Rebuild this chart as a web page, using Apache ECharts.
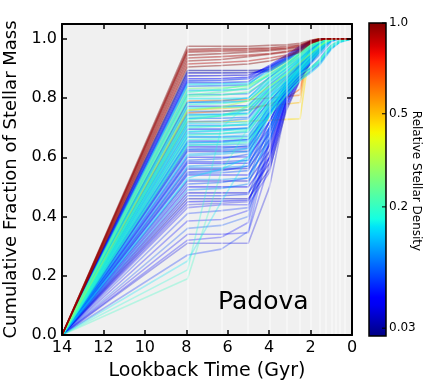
<!DOCTYPE html>
<html><head><meta charset="utf-8">
<script src="https://cdn.jsdelivr.net/npm/echarts@6/dist/echarts.min.js"></script>
<style>html,body{margin:0;padding:0;background:#fff}#c{width:429px;height:387px}</style>
</head><body><div id="c"></div>
<script>
// ---------------- data ----------------
const timeNodes = [14, 7.94, 6.31, 5.01, 3.98, 3.16, 2.51, 2.0, 1.58, 1.26, 1.0, 0.59, 0];
const binEdges = [7.94, 6.31, 5.01, 3.98, 3.16, 2.51, 2.0, 1.58, 1.26, 1.0, 0.79, 0.59, 0.35];
const xTickValues = [14, 12, 10, 8, 6, 4, 2, 0];
const yTickValues = [0.0, 0.2, 0.4, 0.6, 0.8, 1.0];
const colorbarTicks = [1.0, 0.5, 0.2, 0.03];
const colorbarTickLabels = ['1.0', '0.5', '0.2', '0.03'];
const colorbarNorm = [[0.028, 0], [0.03, 0.025], [0.2, 0.4125], [0.5, 0.71], [1.0, 1.0]];

const redDensity = [1.0, 0.98, 0.95, 1.0, 0.92, 0.97, 0.9, 1.0, 0.94];
const redTracks = [
  [0,.975,.975,.975,.978,.98,.985,.995,1,1,1,1,1],
  [0,.965,.967,.968,.97,.975,.98,.992,.998,1,1,1,1],
  [0,.955,.958,.96,.963,.968,.975,.99,.997,1,1,1,1],
  [0,.945,.95,.955,.96,.965,.972,.99,.997,1,1,1,1],
  [0,.935,.94,.945,.95,.958,.968,.988,.996,1,1,1,1],
  [0,.925,.93,.94,.948,.955,.965,.985,.995,1,1,1,1],
  [0,.915,.92,.925,.935,.945,.96,.985,.995,1,1,1,1],
  [0,.905,.91,.915,.925,.94,.955,.985,.995,1,1,1,1],
  [0,.96,.962,.965,.967,.97,.978,.992,.998,1,1,1,1]
];

const topDensity = [0.03, 0.035, 0.04, 0.05, 0.06];
const topTracks = [
  [0,.893,.893,.893,.895,.93,.965,.99,.997,1,1,1,1],
  [0,.885,.885,.886,.89,.925,.96,.985,.995,1,1,1,1],
  [0,.875,.876,.878,.905,.94,.97,.99,.997,1,1,1,1],
  [0,.865,.866,.87,.91,.945,.975,.993,.998,1,1,1,1],
  [0,.858,.86,.865,.9,.935,.968,.99,.997,1,1,1,1]
];

const upperDensity = [0.06,0.15,0.08,0.25,0.12,0.2,0.09,0.22,0.15,0.1,0.18,0.07,0.17,0.3,0.12,0.2,0.08,0.21,0.14,0.1,0.19,0.06,0.16,0.11,0.2,0.09,0.18,0.07,0.13,0.2,0.1,0.15,0.22];
const upperTracks = [
  [0,.852,.852,.855,.905,.935,.965,.99,.997,1,1,1,1],
  [0,.846,.848,.85,.89,.925,.955,.985,.995,1,1,1,1],
  [0,.84,.842,.845,.9,.93,.96,.988,.996,1,1,1,1],
  [0,.832,.835,.84,.885,.92,.95,.98,.993,1,1,1,1],
  [0,.826,.826,.83,.88,.915,.948,.978,.992,.998,1,1,1],
  [0,.82,.83,.845,.875,.91,.945,.975,.99,.998,1,1,1],
  [0,.812,.812,.815,.87,.91,.94,.972,.99,.997,1,1,1],
  [0,.805,.81,.82,.865,.905,.94,.97,.988,.997,1,1,1],
  [0,.798,.798,.8,.86,.9,.935,.965,.985,.995,1,1,1],
  [0,.785,.786,.79,.855,.9,.935,.96,.98,.993,1,1,1],
  [0,.778,.782,.79,.85,.895,.93,.96,.98,.993,1,1,1],
  [0,.772,.772,.775,.845,.89,.93,.965,.985,.996,1,1,1],
  [0,.765,.768,.772,.84,.885,.925,.955,.978,.992,1,1,1],
  [0,.758,.77,.79,.84,.88,.92,.95,.975,.99,.998,1,1],
  [0,.745,.745,.748,.83,.875,.92,.955,.978,.992,1,1,1],
  [0,.738,.74,.745,.825,.87,.915,.95,.975,.99,.998,1,1],
  [0,.732,.732,.735,.82,.87,.91,.945,.972,.99,.998,1,1],
  [0,.725,.74,.77,.82,.86,.905,.94,.97,.99,.998,1,1],
  [0,.715,.716,.72,.81,.86,.9,.94,.968,.988,.998,1,1],
  [0,.708,.708,.71,.805,.855,.9,.935,.965,.985,.997,1,1],
  [0,.70,.705,.715,.8,.85,.895,.93,.96,.985,.997,1,1],
  [0,.695,.695,.698,.79,.85,.895,.935,.965,.985,.996,1,1],
  [0,.688,.69,.695,.785,.845,.89,.925,.955,.98,.995,1,1],
  [0,.68,.68,.685,.78,.84,.885,.9,.92,.95,.97,.99,1],
  [0,.675,.68,.69,.775,.835,.88,.905,.925,.955,.975,.992,1],
  [0,.668,.668,.67,.77,.83,.875,.9,.93,.96,.978,.994,1],
  [0,.66,.662,.665,.76,.825,.87,.895,.92,.95,.97,.99,1],
  [0,.655,.655,.66,.75,.82,.865,.89,.915,.945,.968,.99,1],
  [0,.648,.65,.655,.745,.815,.86,.885,.91,.94,.965,.988,1],
  [0,.64,.645,.65,.74,.81,.86,.895,.925,.955,.98,.995,1],
  [0,.785,.79,.8,.87,.915,.95,.975,.99,.998,1,1,1],
  [0,.73,.74,.76,.84,.885,.925,.955,.978,.993,1,1,1],
  [0,.81,.82,.835,.88,.915,.95,.978,.992,.999,1,1,1]
];

const midDensity = [0.09,0.11,0.08,0.13,0.1,0.12,0.08,0.1,0.07,0.11,0.06,0.09,0.07,0.1];
const midTracks = [
  [0,.755,.755,.76,.835,.88,.92,.955,.978,.992,1,1,1],
  [0,.742,.745,.75,.83,.875,.915,.95,.975,.99,.998,1,1],
  [0,.72,.722,.73,.815,.865,.905,.94,.97,.988,.998,1,1],
  [0,.705,.705,.71,.8,.855,.9,.935,.965,.985,.997,1,1],
  [0,.685,.69,.7,.79,.845,.89,.925,.955,.98,.995,1,1],
  [0,.67,.67,.675,.77,.835,.885,.92,.95,.975,.993,1,1],
  [0,.65,.652,.66,.76,.83,.88,.915,.945,.97,.99,1,1],
  [0,.642,.642,.645,.75,.83,.885,.93,.96,.98,.995,1,1],
  [0,.625,.625,.63,.745,.84,.895,.94,.97,.988,.997,1,1],
  [0,.605,.61,.62,.75,.845,.9,.945,.972,.99,.998,1,1],
  [0,.585,.585,.59,.72,.83,.89,.94,.97,.988,.997,1,1],
  [0,.565,.565,.57,.7,.82,.885,.935,.965,.985,.996,1,1],
  [0,.545,.548,.555,.69,.815,.88,.93,.962,.984,.996,1,1],
  [0,.525,.525,.53,.66,.8,.875,.925,.96,.982,.995,1,1]
];

const warmDensity = [0.6, 0.65, 0.45, 0.5];
const warmTracks = [
  [0,.79,.792,.795,.8,.805,.81,.995,1,1,1,1,1],
  [0,.75,.755,.76,.78,.8,.83,.99,1,1,1,1,1],
  [0,.72,.72,.722,.725,.728,.73,.985,1,1,1,1,1],
  [0,.76,.765,.77,.775,.78,.785,.99,1,1,1,1,1]
];

const lowerDensity = [0.05,0.08,0.04,0.12,0.05,0.07,0.045,0.1,0.04,0.06,0.05,0.14,0.04,0.07,0.045,0.09,0.04,0.06,0.035,0.05];
const lowerTracks = [
  [0,.635,.635,.635,.74,.85,.91,.95,.975,.99,.998,1,1],
  [0,.628,.63,.64,.78,.86,.915,.955,.98,.993,1,1,1],
  [0,.62,.62,.62,.72,.84,.9,.945,.975,.99,.998,1,1],
  [0,.61,.615,.63,.77,.86,.91,.95,.978,.992,1,1,1],
  [0,.60,.60,.602,.7,.83,.9,.945,.972,.99,.998,1,1],
  [0,.59,.595,.61,.76,.85,.905,.95,.975,.99,.998,1,1],
  [0,.58,.58,.58,.68,.82,.89,.94,.97,.988,.997,1,1],
  [0,.57,.575,.59,.75,.85,.905,.948,.975,.99,.998,1,1],
  [0,.56,.56,.562,.66,.81,.885,.935,.968,.985,.996,1,1],
  [0,.55,.555,.57,.72,.84,.9,.945,.972,.99,.998,1,1],
  [0,.54,.54,.54,.64,.8,.88,.93,.965,.985,.996,1,1],
  [0,.53,.56,.6,.74,.845,.9,.945,.975,.99,.998,1,1],
  [0,.52,.52,.52,.62,.79,.875,.93,.965,.985,.996,1,1],
  [0,.51,.515,.53,.7,.83,.895,.94,.97,.988,.997,1,1],
  [0,.50,.50,.50,.6,.78,.87,.925,.96,.982,.995,1,1],
  [0,.49,.495,.51,.68,.82,.89,.938,.968,.988,.997,1,1],
  [0,.48,.48,.48,.58,.77,.865,.92,.958,.98,.995,1,1],
  [0,.47,.47,.475,.65,.81,.885,.935,.968,.987,.997,1,1],
  [0,.46,.46,.46,.56,.76,.86,.918,.955,.98,.995,1,1],
  [0,.45,.452,.455,.6,.8,.88,.93,.965,.985,.996,1,1]
];

const sparseDensity = [0.04,0.05,0.06,0.05,0.07,0.045,0.04,0.06,0.15,0.18,0.2,0.05];
const sparseTracks = [
  [0,.44,.445,.45,.62,.84,.92,.96,.985,.995,1,1,1],
  [0,.43,.44,.44,.55,.8,.9,.95,.98,.99,1,1,1],
  [0,.41,.42,.43,.7,.86,.93,.97,.99,1,1,1,1],
  [0,.385,.39,.42,.6,.82,.91,.96,.985,.995,1,1,1],
  [0,.36,.37,.40,.68,.85,.92,.965,.99,1,1,1,1],
  [0,.34,.34,.345,.58,.8,.9,.95,.98,.995,1,1,1],
  [0,.31,.31,.31,.5,.78,.88,.94,.975,.99,1,1,1],
  [0,.27,.29,.35,.65,.84,.92,.96,.985,.995,1,1,1],
  [0,.25,.45,.6,.8,.88,.93,.97,.99,1,1,1,1],
  [0,.22,.70,.78,.86,.91,.95,.975,.99,1,1,1,1],
  [0,.19,.55,.7,.82,.9,.94,.97,.99,1,1,1,1],
  [0,.32,.33,.38,.66,.84,.91,.96,.985,.995,1,1,1]
];

// ---------------- colour map ----------------
function interp(pts, f) {
  for (let i = 1; i < pts.length; i++) {
    if (f <= pts[i][0]) { const a = pts[i-1], b = pts[i]; return a[1] + (b[1]-a[1])*(f-a[0])/(b[0]-a[0]); }
  }
  return pts[pts.length-1][1];
}
const JR = [[0,0],[0.35,0],[0.66,1],[0.89,1],[1,0.5]];
const JG = [[0,0],[0.125,0],[0.375,1],[0.64,1],[0.91,0],[1,0]];
const JB = [[0,0.5],[0.11,1],[0.34,1],[0.65,0],[1,0]];
function jet(f) { f = Math.max(0, Math.min(1, f)); return [interp(JR,f), interp(JG,f), interp(JB,f)].map(v => Math.round(v*255)); }
const logNorm = colorbarNorm.map(p => [Math.log10(p[0]), p[1]]);
function densityFrac(d) { return Math.max(0, Math.min(1, interp(logNorm, Math.log10(d)))); }
function rgba(c, a) { return 'rgba(' + c[0] + ',' + c[1] + ',' + c[2] + ',' + a + ')'; }

// ---------------- series ----------------
function collect(g) { return g.t.map((tr, i) => ({ d: g.d[i], v: tr, a: g.a })); }
const warm = collect({ d: warmDensity, t: warmTracks, a: 0.45 });
let cool = [].concat(
  collect({ d: sparseDensity, t: sparseTracks, a: 0.3 }),
  collect({ d: lowerDensity, t: lowerTracks, a: 0.42 }),
  collect({ d: midDensity, t: midTracks, a: 0.4 }),
  collect({ d: upperDensity, t: upperTracks, a: 0.48 }),
  collect({ d: topDensity, t: topTracks, a: 0.5 })
);
cool.sort((p, q) => p.d - q.d);
const reds = collect({ d: redDensity, t: redTracks, a: 0.42 });
const tracks = warm.concat(cool, reds);

const series = tracks.map(tr => ({
  type: 'line', silent: true, symbol: 'none', showSymbol: false, animation: false, z: 2,
  data: timeNodes.map((t, i) => [t, tr.v[i]]),
  lineStyle: { width: 1.6, color: rgba(jet(densityFrac(tr.d)), tr.a) }
}));
series.push({
  type: 'line', data: [], silent: true, z: 3, animation: false,
  markLine: {
    silent: true, symbol: ['none', 'none'], label: { show: false }, animation: false,
    lineStyle: { color: '#ffffff', width: 1.5, type: 'solid', opacity: 0.5 },
    data: binEdges.map(t => ({ xAxis: t }))
  }
});

// ---------------- colorbar ----------------
const cbX = 369, cbY = 23, cbW = 17, cbH = 313;
const stops = [];
for (let i = 0; i <= 40; i++) { const f = i/40; stops.push({ offset: 1 - f, color: rgba(jet(f), 1) }); }
stops.sort((a, b) => a.offset - b.offset);
const graphics = [
  { type: 'rect', shape: { x: cbX, y: cbY, width: cbW, height: cbH },
    style: { fill: new echarts.graphic.LinearGradient(0, 0, 0, 1, stops), stroke: '#000', lineWidth: 1.5 }, z: 10 }
];
colorbarTicks.forEach((v, i) => {
  const y = cbY + (1 - densityFrac(v)) * cbH;
  graphics.push({ type: 'line', shape: { x1: cbX + cbW - 4, y1: y, x2: cbX + cbW, y2: y }, style: { stroke: '#000', lineWidth: 1 }, z: 11 });
  graphics.push({ type: 'text', x: cbX + cbW + 3, y: y, z: 11,
    style: { text: colorbarTickLabels[i], font: '12px "DejaVu Sans"', fill: '#000', verticalAlign: 'middle', align: 'left' } });
});
graphics.push({ type: 'text', x: 416, y: 181, rotation: -Math.PI/2, z: 11,
  style: { text: 'Relative Stellar Density', font: '12px "DejaVu Sans"', fill: '#000', align: 'center', verticalAlign: 'middle' } });
graphics.push({ type: 'text', x: 218, y: 302, z: 11,
  style: { text: 'Padova', font: '25px "DejaVu Sans"', fill: '#000', align: 'left', verticalAlign: 'middle' } });

// ---------------- chart ----------------
const axisCommon = {
  z: 10,
  axisLine: { show: true, onZero: false, lineStyle: { color: '#000', width: 2 } },
  axisTick: { show: true, inside: true, length: 5, lineStyle: { color: '#000', width: 1.5 } },
  splitLine: { show: false }
};
const fmtX = v => xTickValues.includes(v) ? String(v) : '';
const fmtY = v => yTickValues.some(t => Math.abs(t - v) < 1e-6) ? v.toFixed(1) : '';
const chart = echarts.init(document.getElementById('c'), null, { renderer: 'canvas' });
chart.setOption({
  animation: false,
  backgroundColor: '#ffffff',
  textStyle: { fontFamily: 'DejaVu Sans' },
  grid: { left: 62, right: 77, top: 24, bottom: 52, show: true, backgroundColor: '#f0f0f0', borderWidth: 0,
    containLabel: false, outerBoundsMode: 'none' },
  xAxis: [
    Object.assign({ type: 'value', min: 0, max: 14, interval: 2, inverse: true, position: 'bottom',
      axisLabel: { color: '#000', fontSize: 16, margin: 5, formatter: fmtX, fontFamily: 'DejaVu Sans' },
      name: 'Lookback Time (Gyr)', nameLocation: 'middle', nameGap: 27,
      nameTextStyle: { color: '#000', fontSize: 19, fontFamily: 'DejaVu Sans' } }, axisCommon),
    Object.assign({ type: 'value', min: 0, max: 14, interval: 2, inverse: true, position: 'top',
      axisLabel: { show: false } }, axisCommon)
  ],
  yAxis: [
    Object.assign({ type: 'value', min: 0, max: 1.05, interval: 0.2, position: 'left',
      axisLabel: { color: '#000', fontSize: 16, margin: 5, formatter: fmtY, fontFamily: 'DejaVu Sans' },
      name: 'Cumulative Fraction of Stellar Mass', nameLocation: 'middle', nameGap: 34,
      nameTextStyle: { color: '#000', fontSize: 18, fontFamily: 'DejaVu Sans' } }, axisCommon),
    Object.assign({ type: 'value', min: 0, max: 1.05, interval: 0.2, position: 'right',
      axisLabel: { show: false } }, axisCommon)
  ],
  series: series,
  graphic: graphics
});
</script></body></html>
